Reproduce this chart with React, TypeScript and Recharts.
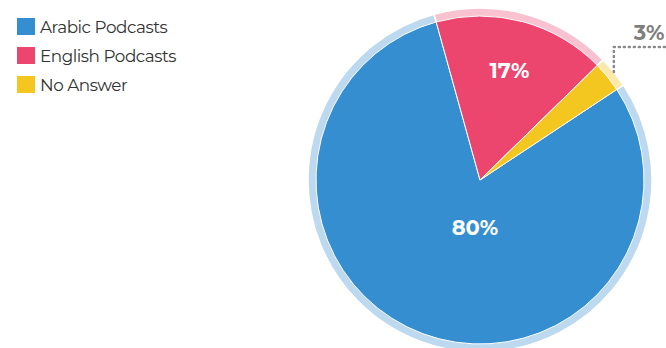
import React from "react";
import { PieChart, Pie, Cell } from "recharts";

const categories = ["Arabic Podcasts", "English Podcasts", "No Answer"];
const shares = [80, 17, 3];
const colors = ["#358ed0", "#ec466f", "#f3c71f"];
const ringColors = ["#bcd9ef", "#f8c2d0", "#fbe8ab"];

const data = categories.map((name, i) => ({ name, value: shares[i] }));

const RAD = Math.PI / 180;
const FONT = "Montserrat, 'DejaVu Sans', sans-serif";

function renderLabel(props: any) {
  const { cx, cy, midAngle, outerRadius, percent, index } = props;
  const pct = `${Math.round(percent * 100)}%`;
  if (percent < 0.05) {
    // small slice: dotted leader going up then right
    const r = outerRadius + 8;
    const x0 = cx + r * Math.cos(-midAngle * RAD);
    const y0 = cy + r * Math.sin(-midAngle * RAD);
    const y1 = y0 - 25;
    return (
      <g key={`l-${index}`}>
        <polyline
          points={`${x0},${y0} ${x0},${y1} ${x0 + 70},${y1}`}
          fill="none"
          stroke="#8a8a8a"
          strokeWidth={2.5}
          strokeDasharray="1 4"
          strokeLinecap="round"
        />
        <text x={x0 + 20} y={y1 - 7} fill="#7f7f7f" fontSize={21} fontWeight={700} fontFamily={FONT}>
          {pct}
        </text>
      </g>
    );
  }
  let x, y;
  if (percent > 0.5) {
    x = cx - 5;
    y = cy + outerRadius * 0.29;
  } else {
    const r = outerRadius * 0.69;
    x = cx + r * Math.cos(-midAngle * RAD);
    y = cy + r * Math.sin(-midAngle * RAD);
  }
  return (
    <text
      key={`l-${index}`}
      x={x}
      y={y}
      fill="#ffffff"
      fontSize={21}
      fontWeight={700}
      fontFamily={FONT}
      textAnchor="middle"
      dominantBaseline="central"
    >
      {pct}
    </text>
  );
}

export default function App() {
  return (
    <div style={{ position: "absolute", left: 0, top: 0, width: 666, height: 348, background: "#fff" }}>
      <PieChart width={666} height={348} margin={{ top: 0, right: 0, bottom: 0, left: 0 }}>
        <Pie
          data={data}
          dataKey="value"
          nameKey="name"
          cx={480}
          cy={180}
          innerRadius={163}
          outerRadius={172}
          startAngle={33.5}
          endAngle={-326.5}
          stroke="#ffffff"
          strokeWidth={1.5}
          isAnimationActive={false}
        >
          {data.map((d, i) => (
            <Cell key={d.name} fill={ringColors[i]} />
          ))}
        </Pie>
        <Pie
          data={data}
          dataKey="value"
          nameKey="name"
          cx={480}
          cy={180}
          outerRadius={164}
          startAngle={33.5}
          endAngle={-326.5}
          stroke="#ffffff"
          strokeWidth={1}
          label={renderLabel}
          labelLine={false}
          isAnimationActive={false}
        >
          {data.map((d, i) => (
            <Cell key={d.name} fill={colors[i]} />
          ))}
        </Pie>
      </PieChart>
      <div style={{ position: "absolute", left: 17, top: 12, fontFamily: FONT }}>
        {categories.map((name, i) => (
          <div key={name} style={{ display: "flex", alignItems: "center", height: 29 }}>
            <span
              style={{ display: "inline-block", width: 18, height: 17, background: colors[i], marginRight: 5 }}
            />
            <span style={{ fontSize: 16.8, letterSpacing: -0.45, color: "#333333" }}>{name}</span>
          </div>
        ))}
      </div>
    </div>
  );
}
